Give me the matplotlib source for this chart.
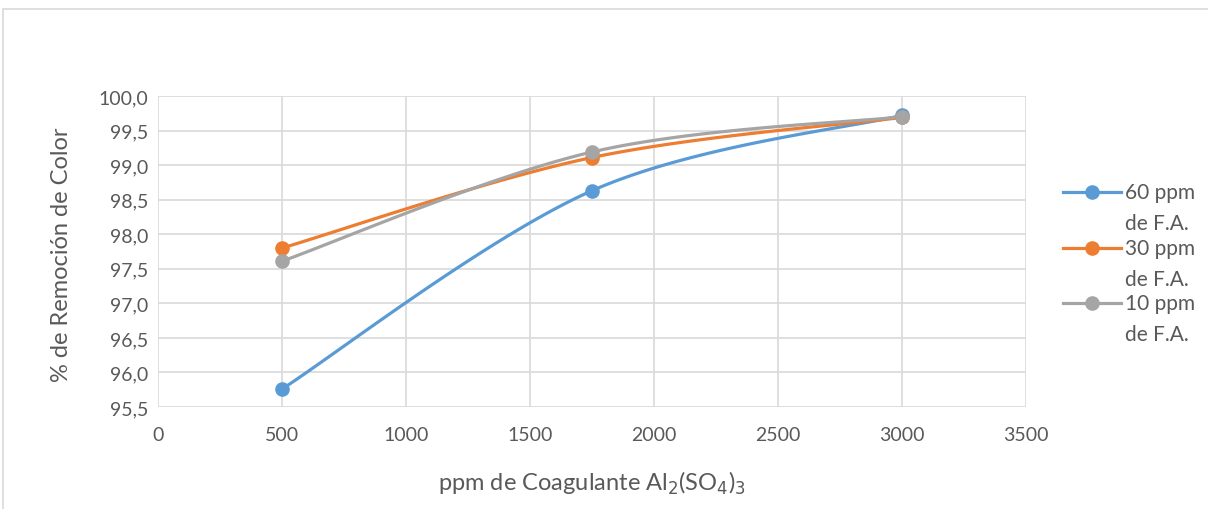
import numpy as np
import matplotlib
matplotlib.use("Agg")
import matplotlib.pyplot as plt
from matplotlib.lines import Line2D
from matplotlib.patches import Rectangle

# ---- data ----
coagulante_ppm = [500, 1750, 3000]
serie_60 = [95.76, 98.63, 99.72]
serie_30 = [97.80, 99.11, 99.69]
serie_10 = [97.61, 99.19, 99.70]
series_labels = [("60 ppm", "de F.A."), ("30 ppm", "de F.A."), ("10 ppm", "de F.A.")]
series_colors = ["#5B9BD5", "#ED7D31", "#A5A5A5"]
x_ticks = [0, 500, 1000, 1500, 2000, 2500, 3000, 3500]
y_ticks = [95.5, 96.0, 96.5, 97.0, 97.5, 98.0, 98.5, 99.0, 99.5, 100.0]

plt.rcParams['font.family'] = ['Lato', 'DejaVu Sans']
text_color = "#595959"

fig = plt.figure(figsize=(12.08, 5.10), dpi=100)
W, H = 1208, 510
ax = fig.add_axes([158 / W, 1 - 408 / H, (1026 - 158) / W, (408 - 97) / H])
ax.set_xlim(0, 3500)
ax.set_ylim(95.5, 100.0)
ax.set_xticks(x_ticks)
ax.set_yticks(y_ticks)
ax.set_xticklabels([str(v) for v in x_ticks])
ax.set_yticklabels([f"{v:.1f}".replace(".", ",") for v in y_ticks])
ax.grid(True, color="#D9D9D9", linewidth=1.2)
ax.set_axisbelow(True)
for s in ax.spines.values():
    s.set_visible(False)
ax.tick_params(length=0, labelsize=14, labelcolor=text_color)
ax.tick_params(axis="x", pad=14)
ax.tick_params(axis="y", pad=7)

fig.text(592 / W, 1 - 483 / H, r"ppm de Coagulante Al$_2$(SO$_4$)$_3$", fontsize=17,
         color=text_color, ha="center", va="center")
fig.text(61 / W, 1 - 255 / H, "% de Remoción de Color", fontsize=17, color=text_color,
         ha="center", va="center", rotation=90)


def excel_smooth(xs, ys, n=60):
    pts = ax.transData.transform(np.column_stack([xs, ys]))
    P = np.vstack([pts[0], pts, pts[-1]])
    out = []
    for i in range(1, len(P) - 2):
        p0, p1, p2, p3 = P[i - 1], P[i], P[i + 1], P[i + 2]
        c1 = p1 + (p2 - p0) / 6.0
        c2 = p2 - (p3 - p1) / 6.0
        t = np.linspace(0, 1, n)[:, None]
        b = ((1 - t) ** 3) * p1 + 3 * ((1 - t) ** 2) * t * c1 + 3 * (1 - t) * t ** 2 * c2 + t ** 3 * p2
        out.append(b if i == 1 else b[1:])
    out = np.vstack(out)
    return ax.transData.inverted().transform(out)


for ys, col in zip([serie_60, serie_30, serie_10], series_colors):
    curve = excel_smooth(coagulante_ppm, ys)
    ax.plot(curve[:, 0], curve[:, 1], color=col, linewidth=2.3, solid_capstyle="round", zorder=3)
    ax.plot(coagulante_ppm, ys, linestyle="none", marker="o", markersize=9.5, color=col, zorder=4)

# legend (drawn manually to match the wrapped Excel legend)
leg_y = [193, 249, 304]
for (l1, l2), col, yy in zip(series_labels, series_colors, leg_y):
    fy = 1 - yy / H
    fig.add_artist(Line2D([1063 / W, 1121 / W], [fy, fy], transform=fig.transFigure,
                          color=col, linewidth=2.3))
    fig.add_artist(Line2D([1092 / W], [fy], transform=fig.transFigure, color=col,
                          marker="o", markersize=9.5, linestyle="none"))
    fig.text(1125 / W, fy, l1, fontsize=15, color=text_color, ha="left", va="center")
    fig.text(1125 / W, 1 - (yy + 31) / H, l2, fontsize=15, color=text_color, ha="left", va="center")

# chart border
fig.patches.append(Rectangle((3 / W, -0.05), 1.2, 1 - 10 / H + 0.05, transform=fig.transFigure,
                             fill=False, edgecolor="#D9D9D9", linewidth=1.2))

fig.savefig("out.png", dpi=100)
